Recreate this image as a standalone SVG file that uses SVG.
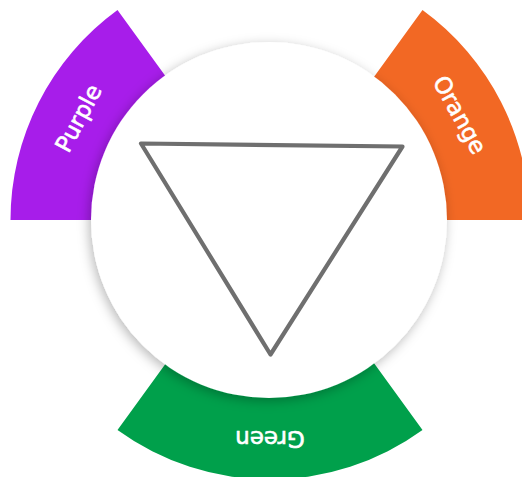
<svg xmlns="http://www.w3.org/2000/svg" width="522" height="477" viewBox="0 0 522 477">
  <defs>
    <filter id="shadow" x="-20%" y="-20%" width="140%" height="140%">
      <feDropShadow dx="-2" dy="3" stdDeviation="6" flood-color="#000" flood-opacity="0.28"/>
    </filter>
    <style>
      .lbl { font-family: "DejaVu Sans", "Liberation Sans", sans-serif; font-size: 23px; fill: #ffffff; stroke: #ffffff; stroke-width: 0.6; text-anchor: middle; }
      .tri { fill: none; stroke: #6f6f6f; stroke-width: 4.2; stroke-linejoin: round; stroke-linecap: round; }
    </style>
  </defs>
  <rect width="522" height="477" fill="#ffffff"/>
  <g id="purple">
    <path d="M10.5,220 A259.5,259.5 0 0 1 117.5,10.1 L173,86.5 A165,165 0 0 0 105,220 Z" fill="#a71dea"/>
    <text class="lbl" transform="translate(78.4,118.1) rotate(-62)" x="0" y="8">Purple</text>
  </g>
  <g id="orange">
    <path d="M422.5,10.1 A259.5,259.5 0 0 1 529.5,220 L435,220 A165,165 0 0 0 367,86.5 Z" fill="#f26824"/>
    <text class="lbl" transform="translate(459.8,114.8) rotate(61)" x="0" y="8">Orange</text>
  </g>
  <g id="green">
    <path d="M117.5,429.9 A259.5,259.5 0 0 0 422.5,429.9 L367,353.5 A165,165 0 0 1 173,353.5 Z" fill="#00a04b"/>
    <text class="lbl" transform="translate(270,439) rotate(180)" x="0" y="8">Green</text>
  </g>
  <g id="center">
    <circle cx="269" cy="220" r="178" fill="#ffffff" filter="url(#shadow)"/>
    <polygon class="tri" points="141,143.5 402.5,146.5 270.5,354.5"/>
  </g>
  <g id="connectors"></g>
</svg>
